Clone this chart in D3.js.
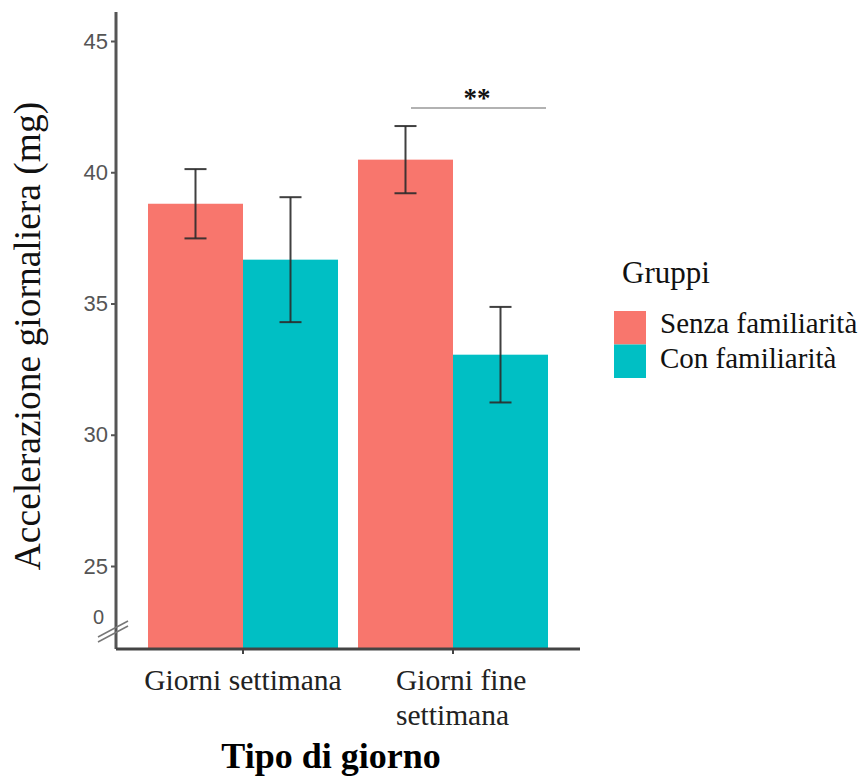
<!DOCTYPE html>
<html>
<head>
<meta charset="utf-8">
<script src="https://cdn.jsdelivr.net/npm/d3@7"></script>
<style>
  html, body { margin: 0; padding: 0; background: #ffffff; }
  svg { display: block; }
</style>
</head>
<body>
<svg id="chart" width="868" height="780"></svg>
<script>
// Daily acceleration (mg) by day type and group, mean ± error
const dayTypes = ["Giorni settimana", "Giorni fine settimana"];
const groups = ["Senza familiarità", "Con familiarità"];
const groupColors = ["#F8766D", "#00BFC4"];
const meansSenza = [38.8, 40.48];
const meansCon = [36.67, 33.05];
const errSenza = [1.32, 1.28];
const errCon = [2.38, 1.82];
const yTicks = [25, 30, 35, 40, 45];

const rows = [];
dayTypes.forEach((d, i) => {
  rows.push({ day: d, group: groups[0], mean: meansSenza[i], err: errSenza[i] });
  rows.push({ day: d, group: groups[1], mean: meansCon[i], err: errCon[i] });
});

const svg = d3.select("#chart");
const serif = "'Liberation Serif', 'DejaVu Serif', serif";
const sans = "'Liberation Sans', Arial, sans-serif";

const axisX = 116;          // y axis position
const baseY = 649;          // x axis / bar baseline
const axisRight = 580;

// y scale covers the visible part above the axis break
const y = d3.scaleLinear().domain([25, 45]).range([566, 41]);
const x0 = d3.scaleBand().domain(dayTypes).range([138, 558]).paddingInner(20 / 210).paddingOuter(10 / 210);
const x1 = d3.scaleBand().domain(groups).range([0, x0.bandwidth()]);
const color = d3.scaleOrdinal().domain(groups).range(groupColors);

// bars (start at the broken baseline)
const g = svg.append("g");
g.selectAll("rect.bar").data(rows).join("rect")
  .attr("class", "bar")
  .attr("x", d => x0(d.day) + x1(d.group))
  .attr("width", x1.bandwidth())
  .attr("y", d => y(d.mean))
  .attr("height", d => baseY - y(d.mean))
  .attr("fill", d => color(d.group));

// error bars
const capHalf = 11;
const cx = d => x0(d.day) + x1(d.group) + x1.bandwidth() / 2;
const eb = g.selectAll("g.err").data(rows).join("g").attr("class", "err")
  .attr("stroke", "#2b2b2b").attr("stroke-width", 2).attr("stroke-opacity", 0.9);
eb.append("line")
  .attr("x1", cx).attr("x2", cx)
  .attr("y1", d => y(d.mean + d.err)).attr("y2", d => y(d.mean - d.err));
eb.append("line")
  .attr("x1", d => cx(d) - capHalf).attr("x2", d => cx(d) + capHalf)
  .attr("y1", d => y(d.mean + d.err)).attr("y2", d => y(d.mean + d.err));
eb.append("line")
  .attr("x1", d => cx(d) - capHalf).attr("x2", d => cx(d) + capHalf)
  .attr("y1", d => y(d.mean - d.err)).attr("y2", d => y(d.mean - d.err));

// y axis
const yAxis = svg.append("g").attr("transform", `translate(${axisX},0)`)
  .call(d3.axisLeft(y).tickValues(yTicks).tickSize(5).tickPadding(3));
yAxis.select(".domain").remove();
yAxis.selectAll(".tick line").attr("stroke", "#555").attr("stroke-width", 2);
yAxis.selectAll(".tick text").attr("fill", "#555").attr("font-family", sans).attr("font-size", 22);
svg.append("line").attr("x1", axisX).attr("x2", axisX).attr("y1", 12).attr("y2", baseY)
  .attr("stroke", "#555").attr("stroke-width", 3);

// "0" label and axis break marks
svg.append("text").attr("x", 104).attr("y", 617).attr("dy", "0.35em")
  .attr("text-anchor", "end").attr("fill", "#555").attr("font-family", sans).attr("font-size", 20).text("0");
[0, 5].forEach(o => {
  svg.append("line").attr("x1", 98).attr("y1", 637 + o).attr("x2", 128).attr("y2", 621 + o)
    .attr("stroke", "#777").attr("stroke-width", 1.5);
});

// x axis
const xAxis = svg.append("g").attr("transform", `translate(0,${baseY})`)
  .call(d3.axisBottom(x0).tickSize(5).tickFormat(""));
xAxis.select(".domain").remove();
xAxis.selectAll(".tick line").attr("stroke", "#444").attr("stroke-width", 2);
svg.append("line").attr("x1", axisX).attr("x2", axisRight).attr("y1", baseY).attr("y2", baseY)
  .attr("stroke", "#444").attr("stroke-width", 3);

// x tick labels
svg.append("text").attr("x", x0(dayTypes[0]) + x0.bandwidth() / 2).attr("y", 690)
  .attr("text-anchor", "middle").attr("font-family", serif).attr("font-size", 29.5).attr("fill", "#222")
  .text(dayTypes[0]);
const t2 = svg.append("text").attr("x", 396).attr("y", 690)
  .attr("font-family", serif).attr("font-size", 29.5).attr("fill", "#222");
t2.append("tspan").attr("x", 396).text("Giorni fine");
t2.append("tspan").attr("x", 396).attr("dy", 35).text("settimana");

// axis titles
svg.append("text").attr("x", 331).attr("y", 768)
  .attr("text-anchor", "middle").attr("font-family", serif).attr("font-weight", "bold")
  .attr("font-size", 36).attr("fill", "#000").text("Tipo di giorno");
svg.append("text").attr("transform", "translate(40,336) rotate(-90)")
  .attr("text-anchor", "middle").attr("font-family", serif).attr("font-size", 37.5).attr("fill", "#111")
  .text("Accelerazione giornaliera (mg)");

// significance bracket
svg.append("line").attr("x1", 411).attr("x2", 546).attr("y1", 108).attr("y2", 108)
  .attr("stroke", "#999").attr("stroke-width", 1.5);
svg.append("text").attr("x", 477).attr("y", 107).attr("text-anchor", "middle")
  .attr("font-family", serif).attr("font-weight", "bold").attr("font-size", 27).attr("fill", "#111").text("**");

// legend
const legend = svg.append("g");
legend.append("text").attr("x", 622).attr("y", 283).attr("font-family", serif).attr("font-size", 31)
  .attr("fill", "#111").text("Gruppi");
groups.forEach((gname, i) => {
  legend.append("rect").attr("x", 614).attr("y", 311 + i * 33.5).attr("width", 32).attr("height", 33.5)
    .attr("fill", color(gname));
  legend.append("text").attr("x", 660).attr("y", 333 + i * 35)
    .attr("font-family", serif).attr("font-size", 29).attr("fill", "#111").text(gname);
});
</script>
</body>
</html>
